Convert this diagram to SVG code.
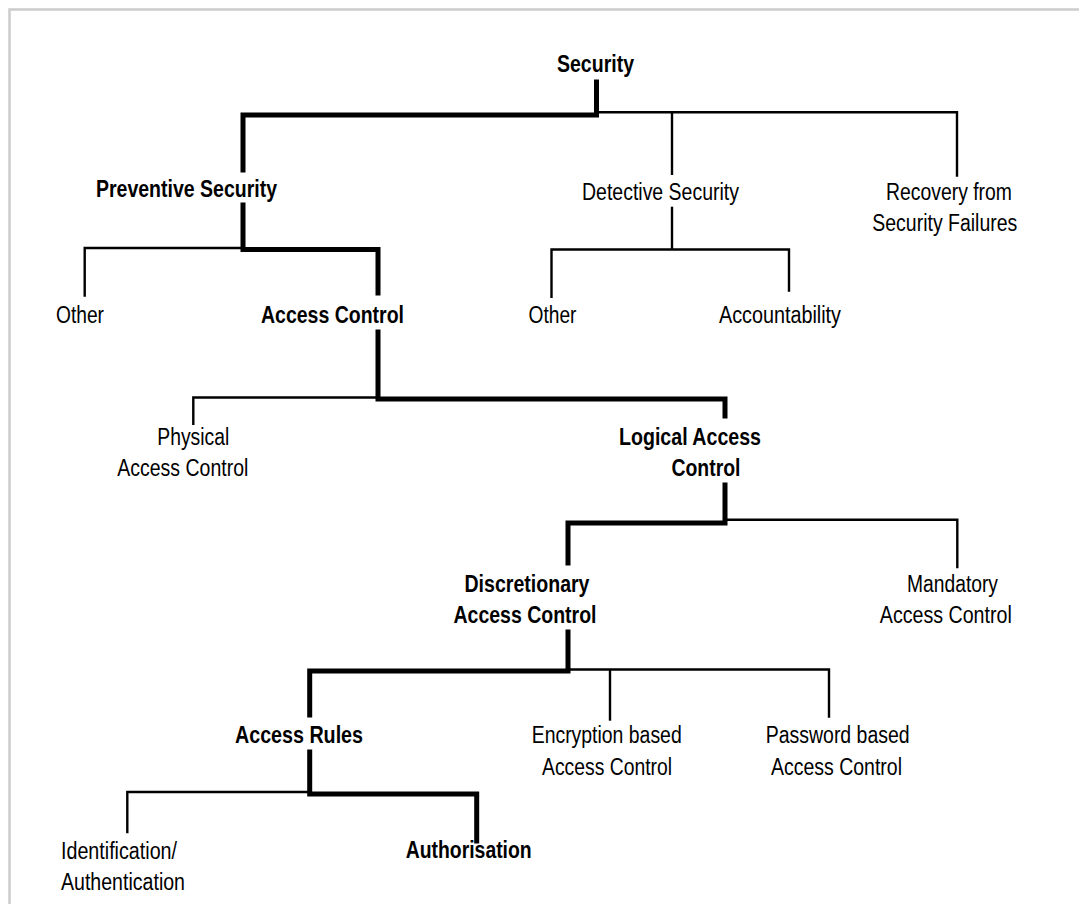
<svg xmlns="http://www.w3.org/2000/svg" width="1079" height="904" viewBox="0 0 1079 904">
  <style>
    text { font-family: "Liberation Sans", Arial, sans-serif; font-size: 23.5px; fill: #000; text-anchor: middle; }
    .b { font-weight: bold; }
    .l { text-anchor: start; }
    .thick { fill: none; stroke: #000; stroke-width: 5; stroke-linejoin: miter; stroke-linecap: square; }
    .thin { fill: none; stroke: #000; stroke-width: 2.4; stroke-linejoin: miter; }
    .frame { fill: none; stroke: #cccccc; stroke-width: 2.5; }
  </style>

  <rect width="1079" height="904" fill="#fff"/>
  <!-- page frame (top and left edges) -->
  <path class="frame" d="M9.5,904 V9.5 H1079"/>

  <!-- connectors -->
  <g id="connectors">
    <!-- highlighted path down to Authorisation -->
    <path class="thick" d="M596.5,82 V115 H243 V170"/>
    <path class="thick" d="M243,205 V249.5 H378 V293"/>
    <path class="thick" d="M378,332 V399 H725 V416"/>
    <path class="thick" d="M725,485 V523 H568 V563"/>
    <path class="thick" d="M568,632 V671 H309.7 V715"/>
    <path class="thick" d="M309.7,752 V794 H476.7 V841"/>

    <!-- ordinary branches -->
    <path class="thin" d="M597,112.3 H957 V176.7"/>
    <path class="thin" d="M672,112.3 V175"/>
    <path class="thin" d="M672,206.7 V249.5"/>
    <path class="thin" d="M551.5,298 V249.5 H789 V291.7"/>
    <path class="thin" d="M243,248 H84.7 V296.7"/>
    <path class="thin" d="M378,397.5 H193.3 V425"/>
    <path class="thin" d="M725,519.7 H957.3 V568.3"/>
    <path class="thin" d="M568,669.5 H829 V717.7"/>
    <path class="thin" d="M610,669.5 V720.7"/>
    <path class="thin" d="M309.7,792 H127.3 V833.3"/>
  </g>

  <g id="security"><text class="b" x="595.5" y="72" textLength="77" lengthAdjust="spacingAndGlyphs">Security</text></g>
  <g id="preventive"><text class="b" x="186.5" y="197" textLength="181" lengthAdjust="spacingAndGlyphs">Preventive Security</text></g>
  <g id="detective"><text x="660.5" y="200" textLength="157" lengthAdjust="spacingAndGlyphs">Detective Security</text></g>
  <g id="recovery">
    <text x="949" y="200" textLength="126" lengthAdjust="spacingAndGlyphs">Recovery from</text>
    <text x="944.8" y="231" textLength="145" lengthAdjust="spacingAndGlyphs">Security Failures</text>
  </g>

  <g id="other-preventive"><text x="80" y="323" textLength="48" lengthAdjust="spacingAndGlyphs">Other</text></g>
  <g id="access-control"><text class="b" x="332.5" y="323" textLength="143" lengthAdjust="spacingAndGlyphs">Access Control</text></g>
  <g id="other-detective"><text x="552.5" y="323" textLength="48" lengthAdjust="spacingAndGlyphs">Other</text></g>
  <g id="accountability"><text x="780" y="323" textLength="122" lengthAdjust="spacingAndGlyphs">Accountability</text></g>

  <g id="physical">
    <text x="193.3" y="445" textLength="72" lengthAdjust="spacingAndGlyphs">Physical</text>
    <text x="182.8" y="476" textLength="131" lengthAdjust="spacingAndGlyphs">Access Control</text>
  </g>
  <g id="logical">
    <text class="b" x="690" y="445" textLength="142" lengthAdjust="spacingAndGlyphs">Logical Access</text>
    <text class="b" x="706" y="476" textLength="69" lengthAdjust="spacingAndGlyphs">Control</text>
  </g>

  <g id="discretionary">
    <text class="b" x="527" y="592" textLength="125" lengthAdjust="spacingAndGlyphs">Discretionary</text>
    <text class="b" x="525" y="623" textLength="143" lengthAdjust="spacingAndGlyphs">Access Control</text>
  </g>
  <g id="mandatory">
    <text x="952.5" y="592" textLength="91" lengthAdjust="spacingAndGlyphs">Mandatory</text>
    <text x="945.8" y="623" textLength="132" lengthAdjust="spacingAndGlyphs">Access Control</text>
  </g>

  <g id="access-rules"><text class="b" x="299" y="743" textLength="128" lengthAdjust="spacingAndGlyphs">Access Rules</text></g>
  <g id="encryption">
    <text x="606.7" y="743" textLength="150" lengthAdjust="spacingAndGlyphs">Encryption based</text>
    <text x="607" y="775" textLength="130" lengthAdjust="spacingAndGlyphs">Access Control</text>
  </g>
  <g id="password">
    <text x="837.7" y="743" textLength="144" lengthAdjust="spacingAndGlyphs">Password based</text>
    <text x="836.5" y="775" textLength="131" lengthAdjust="spacingAndGlyphs">Access Control</text>
  </g>

  <g id="identification">
    <text class="l" x="61" y="859" textLength="116" lengthAdjust="spacingAndGlyphs">Identification/</text>
    <text class="l" x="61" y="890" textLength="124" lengthAdjust="spacingAndGlyphs">Authentication</text>
  </g>
  <g id="authorisation"><text class="b" x="468.7" y="858" textLength="126" lengthAdjust="spacingAndGlyphs">Authorisation</text></g>
</svg>
